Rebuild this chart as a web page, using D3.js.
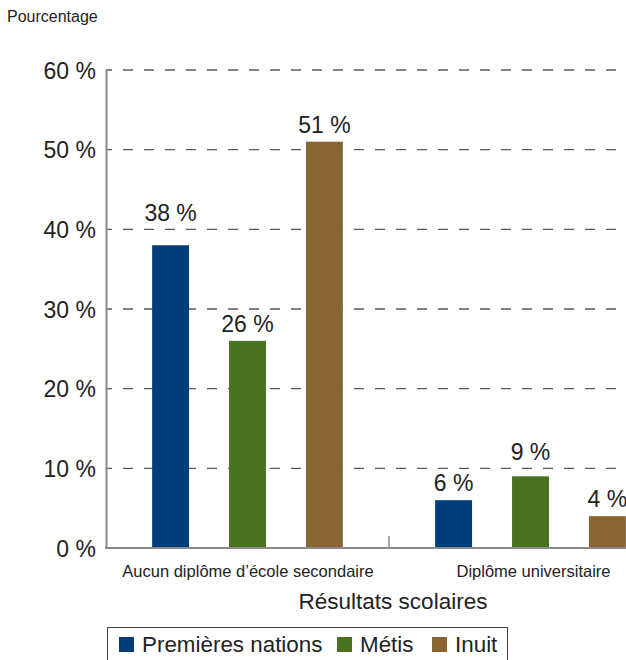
<!DOCTYPE html>
<html>
<head>
<meta charset="utf-8">
<script src="https://cdn.jsdelivr.net/npm/d3@7/dist/d3.min.js"></script>
<style>
  body { margin: 0; background: #fff; }
  svg { display: block; font-family: "Liberation Sans", Arial, sans-serif; }
</style>
</head>
<body>
<svg id="chart" width="626" height="660"></svg>
<script>
// Educational attainment by Indigenous identity group (percent)
const categories = ["Aucun diplôme d’école secondaire", "Diplôme universitaire"];
const seriesNames = ["Premières nations", "Métis", "Inuit"];
const premieresNations = [38, 6];
const metis = [26, 9];
const inuit = [51, 4];
const yTicks = [0, 10, 20, 30, 40, 50, 60];
const colors = ["#003d79", "#4a711f", "#896533"];

const seriesValues = [premieresNations, metis, inuit];
const fmt = v => v + " %";

const svg = d3.select("#chart");
const margin = { left: 106, top: 70, bottom: 548 };
const plotRight = 672; // plot area runs past the right edge of the page

const x0 = d3.scaleBand().domain(categories).range([margin.left, plotRight]).paddingInner(0).paddingOuter(0);
const x1 = d3.scaleBand().domain(seriesNames).range([0, x0.bandwidth()]).paddingInner(0.52).paddingOuter(0.6);
const y = d3.scaleLinear().domain([0, 60]).range([margin.bottom, margin.top]);

// Dashed horizontal gridlines
svg.append("g")
  .selectAll("line")
  .data(yTicks.filter(t => t > 0))
  .join("line")
  .attr("x1", margin.left)
  .attr("x2", 626)
  .attr("y1", d => y(d))
  .attr("y2", d => y(d))
  .attr("stroke", "#5a5a5a")
  .attr("stroke-width", 1.4)
  .attr("stroke-dasharray", "10,11")
  .attr("stroke-dashoffset", 4);

// Y axis
const yAxis = d3.axisLeft(y).tickValues(yTicks).tickFormat(fmt).tickSize(0).tickPadding(10);
const gy = svg.append("g").attr("transform", `translate(${margin.left},0)`).call(yAxis);
gy.attr("font-family", null);
gy.select(".domain").attr("stroke", "#8a8a8a").attr("stroke-width", 2);
gy.selectAll("text").attr("font-size", 23).attr("fill", "#222").attr("dy", "0.36em");

// Bars
const groups = svg.append("g")
  .selectAll("g")
  .data(categories)
  .join("g")
  .attr("transform", d => `translate(${x0(d)},0)`);

groups.selectAll("rect")
  .data((d, i) => seriesNames.map((s, j) => ({ s, v: seriesValues[j][i], j })))
  .join("rect")
  .attr("x", d => x1(d.s))
  .attr("width", x1.bandwidth())
  .attr("y", d => y(d.v))
  .attr("height", d => y(0) - y(d.v))
  .attr("fill", d => colors[d.j]);

// Value labels sit just above each bar, lifted over a gridline they would cross
const gridYs = yTicks.filter(t => t > 0).map(y);
function labelBaseline(v) {
  const base = y(v) - 9;
  const top = base - 17;
  const hit = gridYs.find(g => g >= top - 2 && g <= base + 6);
  return hit === undefined ? base : hit - 8;
}

groups.selectAll("text.val")
  .data((d, i) => seriesNames.map((s, j) => ({ s, v: seriesValues[j][i] })))
  .join("text")
  .attr("class", "val")
  .attr("x", d => x1(d.s) + x1.bandwidth() / 2)
  .attr("y", d => labelBaseline(d.v))
  .attr("text-anchor", "middle")
  .attr("font-size", 23)
  .attr("fill", "#222")
  .text(d => fmt(d.v));

// X axis baseline with category separator tick
const gx = svg.append("g").attr("transform", `translate(0,${margin.bottom})`);
gx.append("line")
  .attr("x1", margin.left - 1).attr("x2", 626)
  .attr("y1", 0).attr("y2", 0)
  .attr("stroke", "#8a8a8a").attr("stroke-width", 2);
gx.append("line")
  .attr("x1", x0(categories[1])).attr("x2", x0(categories[1]))
  .attr("y1", -12).attr("y2", 0)
  .attr("stroke", "#8a8a8a").attr("stroke-width", 1.5);

gx.selectAll("text.cat")
  .data(categories)
  .join("text")
  .attr("class", "cat")
  .attr("x", (d, i) => i === 0 ? 248 : 533.5)
  .attr("y", 29)
  .attr("text-anchor", "middle")
  .attr("font-size", 16.5)
  .attr("fill", "#222")
  .text(d => d);

// Axis titles
svg.append("text")
  .attr("x", 7).attr("y", 22)
  .attr("font-size", 16).attr("fill", "#222")
  .text("Pourcentage");

svg.append("text")
  .attr("x", 393).attr("y", 609)
  .attr("text-anchor", "middle")
  .attr("font-size", 22.5).attr("fill", "#222")
  .text("Résultats scolaires");

// Legend
const legend = svg.append("g");
legend.append("rect")
  .attr("x", 107.5).attr("y", 627.5)
  .attr("width", 400).attr("height", 40)
  .attr("fill", "none").attr("stroke", "#444").attr("stroke-width", 1);

const legendX = [119, 337, 432];
const items = legend.selectAll("g.item")
  .data(seriesNames)
  .join("g")
  .attr("class", "item")
  .attr("transform", (d, i) => `translate(${legendX[i]},0)`);
items.append("rect")
  .attr("x", 0).attr("y", 637)
  .attr("width", 15).attr("height", 15)
  .attr("fill", (d, i) => colors[i]);
items.append("text")
  .attr("x", 23).attr("y", 652)
  .attr("font-size", 22.4).attr("fill", "#222")
  .text(d => d);
</script>
</body>
</html>
